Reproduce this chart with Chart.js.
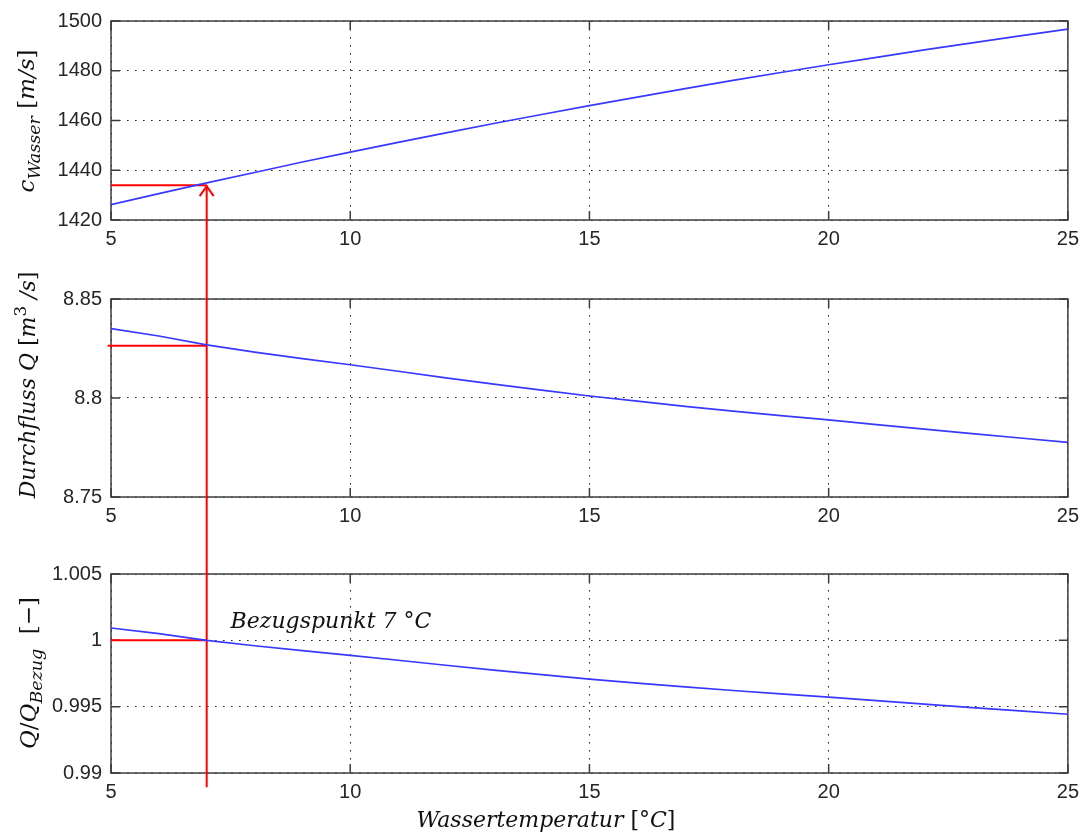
<!DOCTYPE html>
<html>
<head>
<meta charset="utf-8">
<script src="https://cdn.jsdelivr.net/npm/chart.js@4.4.1/dist/chart.umd.min.js"></script>
<style>
  html, body { margin: 0; padding: 0; background: #fff; }
  #wrap { position: relative; width: 1086px; height: 836px; }
  .panel { position: absolute; left: 0; width: 1086px; }
</style>
</head>
<body>
<div id="wrap">
  <div class="panel" style="top:0;height:260px"><canvas id="cSpeed"></canvas></div>
  <div class="panel" style="top:260px;height:280px"><canvas id="cFlow"></canvas></div>
  <div class="panel" style="top:540px;height:296px"><canvas id="cRatio"></canvas></div>
</div>
<script>
// water temperature in °C
const temps = [5, 6, 7, 8, 9, 10, 11, 12, 13, 14, 15, 16, 17, 18, 19, 20, 21, 22, 23, 24, 25];
// speed of sound in water, m/s
const speed = [1426.2, 1430.6, 1434.9, 1439.1, 1443.3, 1447.3, 1451.2, 1455.0, 1458.8, 1462.4, 1466.0,
               1469.4, 1472.8, 1476.1, 1479.3, 1482.4, 1485.4, 1488.4, 1491.2, 1494.0, 1496.7];
// flow Q, m^3/s
const flow = [8.8350, 8.8313, 8.8268, 8.8232, 8.8199, 8.8168, 8.8135, 8.8102, 8.8070, 8.8040, 8.8010,
              8.7984, 8.7958, 8.7934, 8.7911, 8.7890, 8.7866, 8.7843, 8.7820, 8.7798, 8.7776];
// Q / Q_Bezug
const ratio = [1.00093, 1.00051, 1.00000, 0.99959, 0.99922, 0.99887, 0.99850, 0.99812, 0.99776, 0.99742, 0.99708,
               0.99678, 0.99649, 0.99622, 0.99596, 0.99572, 0.99545, 0.99519, 0.99493, 0.99468, 0.99443];

const xTicks = [5, 10, 15, 20, 25];
const speedTicks = [1420, 1440, 1460, 1480, 1500];
const flowTicks = [8.75, 8.8, 8.85];
const ratioTicks = [0.99, 0.995, 1, 1.005];

// reference point (Bezugspunkt)
const refTemp = 7;
const refSpeed = 1434;
const refFlow = 8.8264;
const refRatio = 1;
const refLineBottom = 0.98893;
const refLabel = 'Bezugspunkt 7 °C';

const BLUE = '#3838ff';
const RED = '#ff0000';
const MATH = '"DejaVu Serif"';

Chart.defaults.font.family = '"Liberation Sans", Arial, sans-serif';

// draws text pieces: [text, kind] kind = i (italic), r (roman), sub, sup
function drawRuns(ctx, runs, x, y, size) {
  const fontOf = k => {
    const small = (k === 'sub' || k === 'sup');
    const ital = (k === 'i' || k === 'sub');
    return (ital ? 'italic ' : '') + (small ? size * 0.76 : size) + 'px ' + MATH;
  };
  let total = 0;
  const ws = runs.map(r => { ctx.font = fontOf(r[1]); const w = ctx.measureText(r[0]).width; total += w; return w; });
  let cx = x - total / 2;
  ctx.textAlign = 'left';
  ctx.textBaseline = 'alphabetic';
  runs.forEach((r, i) => {
    ctx.font = fontOf(r[1]);
    const dy = r[1] === 'sub' ? size * 0.28 : (r[1] === 'sup' ? -size * 0.42 : 0);
    ctx.fillText(r[0], cx, y + dy);
    cx += ws[i];
  });
}

const framePlugin = {
  id: 'frame',
  beforeDatasetsDraw(chart) {
    const { ctx, chartArea: a, scales: { x, y } } = chart;
    ctx.save();
    ctx.strokeStyle = '#3c3c3c';
    ctx.lineWidth = 1.5;
    ctx.strokeRect(a.left, a.top, a.right - a.left, a.bottom - a.top);
    ctx.beginPath();
    x.ticks.forEach(t => {
      const px = x.getPixelForValue(t.value);
      ctx.moveTo(px, a.bottom); ctx.lineTo(px, a.bottom - 9);
      ctx.moveTo(px, a.top); ctx.lineTo(px, a.top + 9);
    });
    y.ticks.forEach(t => {
      const py = y.getPixelForValue(t.value);
      ctx.moveTo(a.left, py); ctx.lineTo(a.left + 9, py);
      ctx.moveTo(a.right, py); ctx.lineTo(a.right - 9, py);
    });
    ctx.stroke();
    ctx.restore();
  }
};

const arrowPlugin = {
  id: 'arrow',
  afterDatasetsDraw(chart) {
    const { ctx } = chart;
    chart.data.datasets.forEach((ds, i) => {
      if (!ds.arrow) return;
      const pts = chart.getDatasetMeta(i).data;
      const tip = pts[pts.length - 1];
      ctx.save();
      ctx.strokeStyle = ds.borderColor;
      ctx.lineWidth = 2;
      ctx.beginPath();
      ctx.moveTo(tip.x - 7, tip.y + 11);
      ctx.lineTo(tip.x, tip.y + 1);
      ctx.lineTo(tip.x + 7, tip.y + 11);
      ctx.stroke();
      ctx.restore();
    });
  }
};

const titlePlugin = {
  id: 'ytitle',
  afterDraw(chart, args, opts) {
    const { ctx } = chart;
    ctx.save();
    ctx.fillStyle = '#111';
    ctx.translate(opts.x, opts.y);
    ctx.rotate(-Math.PI / 2);
    drawRuns(ctx, opts.runs, 0, 0, opts.size);
    ctx.restore();
    if (opts.xTitle) {
      ctx.save();
      ctx.fillStyle = '#111';
      drawRuns(ctx, opts.xTitle, opts.xTitleX, opts.xTitleY, 22);
      ctx.restore();
    }
    if (opts.label) {
      const { x, y } = chart.scales;
      ctx.save();
      ctx.fillStyle = '#111';
      ctx.font = 'italic 22px ' + MATH;
      ctx.textAlign = 'left';
      ctx.textBaseline = 'alphabetic';
      ctx.fillText(opts.label, x.getPixelForValue(opts.labelAt[0]), y.getPixelForValue(opts.labelAt[1]));
      ctx.restore();
    }
  }
};

function series(values) {
  return temps.map((t, i) => ({ x: t, y: values[i] }));
}

function redLine(points, arrow) {
  return { data: points, borderColor: RED, borderWidth: 2, pointRadius: 0, clip: false, arrow: !!arrow };
}

function makeChart(id, values, yMin, yMax, yTicks, pads, xHeight, extra, titleOpts) {
  return new Chart(document.getElementById(id), {
    type: 'line',
    data: {
      datasets: [
        { data: series(values), borderColor: BLUE, borderWidth: 1.7, pointRadius: 0, tension: 0 },
        ...extra
      ]
    },
    options: {
      responsive: true,
      maintainAspectRatio: false,
      animation: false,
      events: [],
      layout: { padding: { top: pads, right: 17, left: 0, bottom: 0 } },
      plugins: { legend: { display: false }, tooltip: { enabled: false }, ytitle: titleOpts },
      scales: {
        x: {
          type: 'linear', min: 5, max: 25,
          afterBuildTicks: s => { s.ticks = xTicks.map(v => ({ value: v })); },
          afterFit: s => { s.height = xHeight; },
          grid: { color: '#2a2a2a', lineWidth: 1, drawTicks: false },
          border: { display: false, dash: [1.6, 6.4] },
          ticks: { color: '#262626', font: { size: 20 }, padding: 7, maxRotation: 0, autoSkip: false,
                   callback: v => String(v) }
        },
        y: {
          type: 'linear', min: yMin, max: yMax,
          afterBuildTicks: s => { s.ticks = yTicks.map(v => ({ value: v })); },
          afterFit: s => { s.width = 111; },
          grid: { color: '#2a2a2a', lineWidth: 1, drawTicks: false },
          border: { display: false, dash: [1.6, 6.4] },
          ticks: { color: '#262626', font: { size: 20 }, padding: 9, autoSkip: false,
                   callback: v => String(v) }
        }
      }
    },
    plugins: [framePlugin, arrowPlugin, titlePlugin]
  });
}

makeChart('cSpeed', speed, 1420, 1500, speedTicks, 20, 40, [
  redLine([{ x: 5, y: refSpeed }, { x: refTemp, y: refSpeed }]),
  redLine([{ x: refTemp, y: 1300 }, { x: refTemp, y: refSpeed }], true)
], { x: 34, y: 121, size: 23, runs: [['c', 'i'], ['Wasser', 'sub'], [' [', 'r'], ['m/s', 'i'], [']', 'r']] });

makeChart('cFlow', flow, 8.75, 8.85, flowTicks, 39, 43, [
  redLine([{ x: 4.93, y: refFlow }, { x: refTemp, y: refFlow }]),
  redLine([{ x: refTemp, y: 8.6 }, { x: refTemp, y: 9.0 }])
], { x: 35, y: 125, size: 22, runs: [['Durchfluss Q ', 'i'], ['[', 'r'], ['m', 'i'], ['3', 'sup'], [' /', 'i'], ['s', 'i'], [']', 'r']] });

makeChart('cRatio', ratio, 0.99, 1.005, ratioTicks, 34, 63, [
  redLine([{ x: 5, y: refRatio }, { x: refTemp, y: refRatio }]),
  redLine([{ x: refTemp, y: refLineBottom }, { x: refTemp, y: 1.03 }])
], {
  x: 36, y: 133, size: 23,
  runs: [['Q', 'i'], ['/', 'r'], ['Q', 'i'], ['Bezug', 'sub'], ['  [', 'r'], ['\u2212', 'r'], [']', 'r']],
  xTitle: [['Wassertemperatur ', 'i'], ['[', 'r'], ['°', 'r'], ['C', 'i'], [']', 'r']],
  xTitleX: 546, xTitleY: 287,
  label: refLabel, labelAt: [7.5, 1.0009]
});
</script>
</body>
</html>
